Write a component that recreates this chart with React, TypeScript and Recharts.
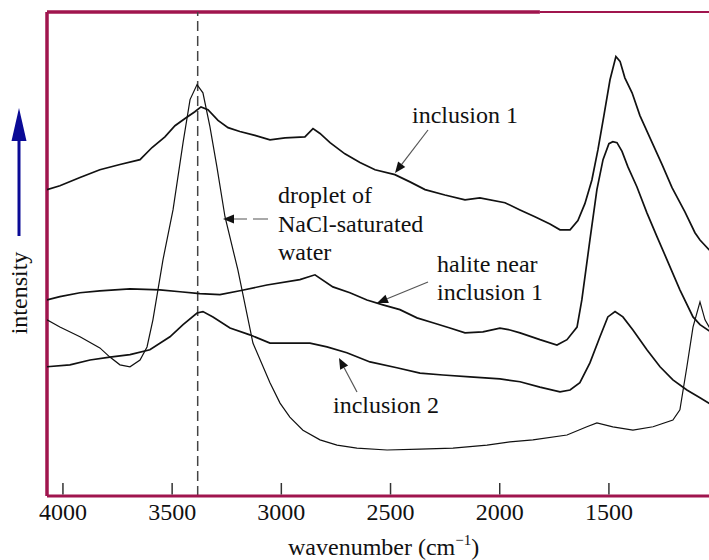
import { LineChart, Line, XAxis, YAxis, ReferenceLine } from 'recharts'

// wavenumber (cm-1) and relative intensity
const inclusion1Wn = [4073, 4014, 3922, 3831, 3739, 3647, 3592, 3533, 3487, 3441, 3396, 3368, 3336, 3290, 3244, 3190, 3121, 3052, 2983, 2892, 2855, 2823, 2777, 2709, 2640, 2571, 2480, 2411, 2342, 2251, 2159, 2091, 1976, 1907, 1839, 1770, 1724, 1678, 1642, 1610, 1578, 1550, 1523, 1495, 1468, 1449, 1427, 1394, 1358, 1312, 1257, 1211, 1152, 1106, 1083, 1042, 1028]
const inclusion1Int = [63.3, 64.1, 65.8, 67.4, 68.5, 69.5, 72.0, 74.2, 76.5, 78.0, 79.4, 80.4, 79.8, 77.6, 76.1, 75.3, 74.5, 73.6, 74.0, 74.2, 75.9, 74.9, 73.0, 70.7, 68.9, 67.4, 66.4, 64.9, 63.3, 62.2, 61.2, 61.6, 60.6, 59.1, 57.7, 56.2, 55.0, 55.0, 56.9, 60.4, 65.3, 71.6, 78.6, 86.0, 90.8, 89.8, 86.4, 83.3, 78.6, 74.0, 68.5, 63.7, 58.7, 54.4, 52.9, 50.9, 50.5]

const haliteWn = [4073, 4014, 3922, 3831, 3693, 3556, 3464, 3373, 3281, 3190, 3066, 2915, 2846, 2764, 2686, 2608, 2535, 2457, 2379, 2306, 2228, 2159, 2077, 1999, 1953, 1907, 1816, 1738, 1692, 1646, 1624, 1587, 1555, 1527, 1500, 1482, 1463, 1440, 1413, 1372, 1326, 1280, 1234, 1175, 1115, 1083, 1028]
const haliteInt = [40.5, 41.2, 42.0, 42.4, 42.8, 42.6, 42.2, 41.8, 41.6, 42.4, 43.6, 44.7, 45.7, 43.2, 42.0, 40.5, 39.5, 38.5, 36.8, 35.8, 34.7, 33.7, 33.9, 34.7, 34.3, 33.7, 32.3, 31.2, 32.3, 34.9, 40.5, 52.9, 63.3, 69.5, 72.8, 73.2, 73.0, 71.2, 68.0, 63.9, 58.5, 53.6, 48.8, 42.6, 37.0, 35.4, 33.7]

const inclusion2Wn = [4073, 3968, 3876, 3785, 3693, 3602, 3510, 3450, 3386, 3359, 3313, 3235, 3144, 3052, 2961, 2869, 2791, 2700, 2594, 2471, 2365, 2260, 2136, 1999, 1907, 1816, 1724, 1678, 1633, 1587, 1541, 1505, 1472, 1436, 1390, 1326, 1266, 1207, 1143, 1083, 1028]
const inclusion2Int = [26.7, 27.1, 28.1, 28.7, 29.2, 30.2, 32.9, 35.4, 37.8, 38.1, 37.0, 34.7, 33.3, 31.6, 31.6, 31.6, 30.8, 29.6, 27.7, 26.5, 25.4, 25.0, 24.6, 24.2, 23.6, 22.5, 21.5, 21.9, 23.4, 27.5, 32.9, 37.0, 38.1, 37.0, 34.3, 30.2, 26.7, 24.0, 21.9, 20.3, 18.8]

const dropletWn = [4073, 4014, 3922, 3831, 3785, 3739, 3693, 3647, 3615, 3588, 3565, 3542, 3496, 3450, 3418, 3386, 3359, 3327, 3295, 3258, 3199, 3130, 3052, 3006, 2961, 2901, 2823, 2745, 2654, 2516, 2365, 2214, 2058, 1953, 1848, 1692, 1601, 1555, 1482, 1390, 1298, 1207, 1175, 1143, 1115, 1083, 1060, 1028]
const dropletInt = [36.4, 34.9, 32.9, 30.6, 28.7, 27.1, 26.7, 28.1, 30.8, 36.4, 42.6, 48.8, 59.1, 73.0, 81.9, 85.0, 83.3, 76.3, 68.0, 57.7, 46.7, 31.6, 23.4, 19.2, 16.3, 13.6, 11.6, 10.5, 9.9, 9.5, 9.7, 9.9, 10.5, 11.2, 11.6, 12.6, 14.3, 15.1, 14.3, 13.6, 14.3, 15.7, 17.8, 26.7, 34.9, 40.1, 36.4, 33.9]

const xTicks = [4000, 3500, 3000, 2500, 2000, 1500]
const markerWn = 3383

const frame = '#a0154e'
const serif = "'Liberation Serif', 'Times New Roman', serif"

const toPoints = (wn: number[], vals: number[]) => wn.map((w, i) => ({ w, v: vals[i] }))

function WnTick(props: any) {
  const { x, y, payload } = props
  return (
    <g>
      <line x1={x} x2={x} y1={y - 1.5} y2={y - 13} stroke="#333" strokeWidth={1.5} />
      <text x={x} y={y + 24} textAnchor="middle" style={{ fontFamily: serif, fontSize: 24 }} fill="#111">
        {payload.value}
      </text>
    </g>
  )
}

function Arrow({ x1, y1, x2, y2, dash }: { x1: number; y1: number; x2: number; y2: number; dash?: string }) {
  const len = Math.hypot(x2 - x1, y2 - y1)
  const ux = (x2 - x1) / len
  const uy = (y2 - y1) / len
  const bx = x2 - ux * 11
  const by = y2 - uy * 11
  const pts = `${x2},${y2} ${bx - uy * 4.5},${by + ux * 4.5} ${bx + uy * 4.5},${by - ux * 4.5}`
  return (
    <g>
      <line x1={x1} y1={y1} x2={bx} y2={by} stroke="#555" strokeWidth={1.2} strokeDasharray={dash} />
      <polygon points={pts} fill="#111" />
    </g>
  )
}

export default function App() {
  const txt = { style: { fontFamily: serif, fontSize: 24 }, fill: '#111' }
  return (
    <div style={{ position: 'absolute', left: 0, top: 0, width: 709, height: 560, overflow: 'hidden', background: '#fff', fontFamily: serif }}>
      <LineChart width={740} height={560} margin={{ top: 12, right: 28, bottom: 0, left: 47 }}>
        <XAxis
          type="number"
          dataKey="w"
          domain={[1028, 4073]}
          reversed
          allowDataOverflow
          ticks={xTicks}
          height={64}
          tickLine={false}
          tickSize={0}
          tickMargin={0}
          tick={<WnTick />}
          axisLine={{ stroke: frame, strokeWidth: 3 }}
        />
        <YAxis type="number" domain={[0, 100]} width={0} tick={false} tickLine={false} axisLine={false} />
        <ReferenceLine segment={[{ x: 4073, y: 100 }, { x: 1816, y: 100 }]} stroke={frame} strokeWidth={3.5} ifOverflow="visible" />
        <ReferenceLine segment={[{ x: 1816, y: 100 }, { x: 1028, y: 100 }]} stroke={frame} strokeWidth={2} ifOverflow="visible" />
        <ReferenceLine segment={[{ x: 4073, y: 0 }, { x: 4073, y: 100 }]} stroke={frame} strokeWidth={3.5} ifOverflow="visible" />
        <ReferenceLine segment={[{ x: markerWn, y: 0 }, { x: markerWn, y: 100 }]} stroke="#444" strokeWidth={1.5} strokeDasharray="10 5" ifOverflow="visible" />
        <Line data={toPoints(inclusion1Wn, inclusion1Int)} dataKey="v" type="linear" stroke="#111" strokeWidth={1.7} dot={false} isAnimationActive={false} />
        <Line data={toPoints(haliteWn, haliteInt)} dataKey="v" type="linear" stroke="#111" strokeWidth={1.7} dot={false} isAnimationActive={false} />
        <Line data={toPoints(inclusion2Wn, inclusion2Int)} dataKey="v" type="linear" stroke="#111" strokeWidth={1.7} dot={false} isAnimationActive={false} />
        <Line data={toPoints(dropletWn, dropletInt)} dataKey="v" type="linear" stroke="#111" strokeWidth={1.2} dot={false} isAnimationActive={false} />
      </LineChart>
      <svg width={709} height={560} style={{ position: 'absolute', left: 0, top: 0, pointerEvents: 'none' }}>
        <line x1={19} y1={236} x2={19} y2={136} stroke="#0a0a96" strokeWidth={3} />
        <polygon points="19,108 11.5,141 26.5,141" fill="#0a0a96" />
        <text x={27} y={293} textAnchor="middle" transform="rotate(-90 27 293)" {...txt}>intensity</text>
        <text x={288} y={555} {...txt}>
          wavenumber (cm
          <tspan style={{ fontSize: 15 }} dy={-10}>−1</tspan>
          <tspan dy={10}>)</tspan>
        </text>
        <text x={412} y={123} {...txt}>inclusion 1</text>
        <Arrow x1={428} y1={130} x2={395} y2={173} />
        <text x={278} y={203} {...txt}>droplet of</text>
        <text x={278} y={232} {...txt}>NaCl-saturated</text>
        <text x={278} y={260} {...txt}>water</text>
        <Arrow x1={268} y1={219} x2={223} y2={219} dash="15 6" />
        <text x={437} y={272} {...txt}>halite near</text>
        <text x={437} y={300} {...txt}>inclusion 1</text>
        <Arrow x1={428} y1={282} x2={377} y2={303} />
        <text x={333} y={413} {...txt}>inclusion 2</text>
        <Arrow x1={357} y1={392} x2={339} y2={358} />
      </svg>
    </div>
  )
}
